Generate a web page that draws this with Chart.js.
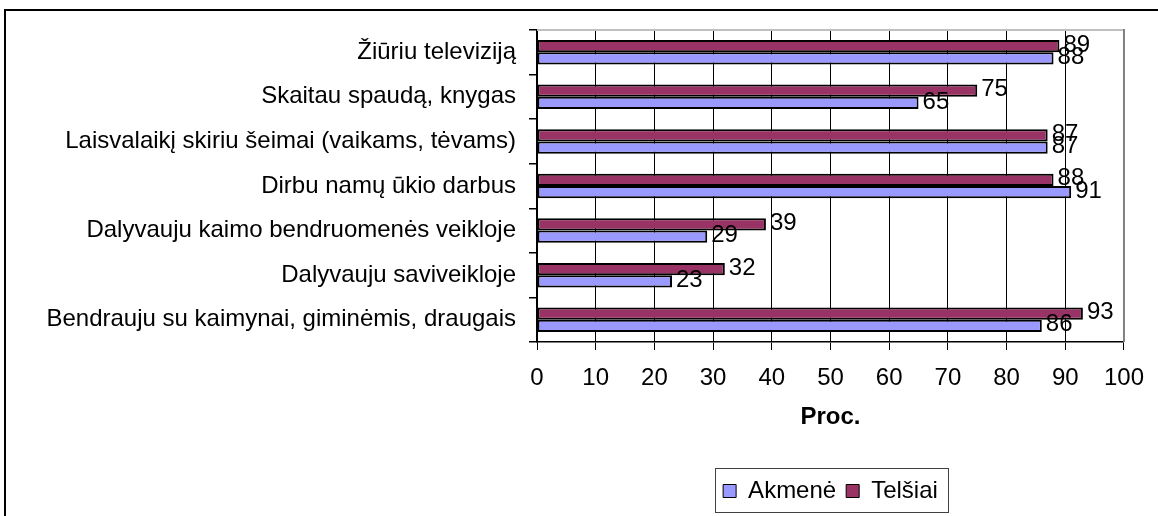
<!DOCTYPE html>
<html>
<head>
<meta charset="utf-8">
<script src="https://cdn.jsdelivr.net/npm/chart.js@4.4.1/dist/chart.umd.min.js"></script>
<style>
  html, body { margin:0; padding:0; width:1158px; height:516px; overflow:hidden; background:#fff; }
  #frame { position:absolute; left:4px; top:9px; width:1400px; height:800px; border:2px solid #000; }
  #wrap { position:absolute; left:0; top:0; width:1158px; height:516px; }
</style>
</head>
<body>
<div id="frame"></div>
<div id="wrap"><canvas id="c" width="1158" height="516"></canvas></div>
<script>
const categories = [
  'Žiūriu televiziją',
  'Skaitau spaudą, knygas',
  'Laisvalaikį skiriu šeimai (vaikams, tėvams)',
  'Dirbu namų ūkio darbus',
  'Dalyvauju kaimo bendruomenės veikloje',
  'Dalyvauju saviveikloje',
  'Bendrauju su kaimynai, giminėmis, draugais'
];
const akmene  = [88, 65, 87, 91, 29, 23, 86];
const telsiai = [89, 75, 87, 88, 39, 32, 93];
const xMin = 0, xMax = 100, xStep = 10;
const xTitle = 'Proc.';

const FONT = "'Liberation Sans', Arial, sans-serif";

const dataLabels = {
  id: 'dataLabels',
  afterDatasetsDraw(chart) {
    const ctx = chart.ctx;
    ctx.save();
    ctx.font = '24px ' + FONT;
    ctx.fillStyle = '#000';
    ctx.textAlign = 'left';
    ctx.textBaseline = 'middle';
    chart.data.datasets.forEach((ds, i) => {
      const meta = chart.getDatasetMeta(i);
      meta.data.forEach((el, j) => {
        ctx.fillText(String(ds.data[j]), el.x + 4, el.y - 1);
      });
    });
    ctx.restore();
  }
};

const plotBorder = {
  id: 'plotBorder',
  beforeDatasetsDraw(chart) {
    const {ctx, chartArea: a} = chart;
    ctx.save();
    ctx.lineWidth = 2;
    ctx.strokeStyle = '#c0c0c0';
    ctx.beginPath(); ctx.moveTo(a.left, a.top); ctx.lineTo(a.right, a.top); ctx.stroke();
    ctx.strokeStyle = '#808080';
    ctx.beginPath(); ctx.moveTo(a.right, a.top - 1); ctx.lineTo(a.right, a.bottom); ctx.stroke();
    ctx.restore();
  }
};

const legendBox = {
  id: 'legendBox',
  afterDraw(chart) {
    const lg = chart.legend;
    if (!lg || !lg.legendHitBoxes || !lg.legendHitBoxes.length) return;
    const hb = lg.legendHitBoxes;
    const l = Math.min(...hb.map(h => h.left)) - 8;
    const r = Math.max(...hb.map(h => h.left + h.width)) + 10;
    const ctx = chart.ctx;
    ctx.save();
    ctx.strokeStyle = '#404040';
    ctx.lineWidth = 1;
    ctx.strokeRect(Math.round(l) + 0.5, Math.round(lg.top - 1) + 0.5, Math.round(r - l), Math.round(lg.bottom - lg.top));
    ctx.restore();
  }
};

new Chart(document.getElementById('c'), {
  type: 'bar',
  data: {
    labels: categories,
    datasets: [
      { label: 'Telšiai', data: telsiai, backgroundColor: '#993366', borderColor: '#000', borderWidth: 2, borderSkipped: false },
      { label: 'Akmenė', data: akmene, backgroundColor: '#9999FF', borderColor: '#000', borderWidth: 2, borderSkipped: false }
    ]
  },
  options: {
    indexAxis: 'y',
    responsive: false,
    animation: false,
    devicePixelRatio: 1,
    categoryPercentage: 0.55,
    barPercentage: 1.0,
    layout: { padding: { top: 30, right: 30, bottom: 3, left: 0 } },
    scales: {
      y: {
        afterFit(s) { s.width = 537; },
        grid: { display: true, drawOnChartArea: false, drawTicks: true, tickLength: 8, color: '#000', lineWidth: 1.5, offset: true },
        border: { display: true, color: '#000', width: 2 },
        ticks: { font: { family: FONT, size: 24 }, color: '#000', padding: 13 }
      },
      x: {
        min: xMin, max: xMax,
        afterFit(s) { s.height = 127; },
        grid: { display: true, drawOnChartArea: true, drawTicks: true, tickLength: 8, color: '#000', lineWidth: 1 },
        border: { display: true, color: '#000', width: 1.5 },
        ticks: { stepSize: xStep, font: { family: FONT, size: 24 }, color: '#000', padding: 14, maxRotation: 0 },
        title: { display: true, text: xTitle, font: { family: FONT, size: 24, weight: 'bold' }, color: '#000', padding: { top: 0, bottom: 37 } }
      }
    },
    plugins: {
      legend: {
        display: true,
        position: 'bottom',
        fullSize: false,
        reverse: true,
        labels: {
          font: { family: FONT, size: 24 },
          color: '#000',
          boxWidth: 13,
          boxHeight: 13,
          padding: 10,
          generateLabels(chart) {
            return Chart.defaults.plugins.legend.labels.generateLabels(chart).map(it => Object.assign(it, { lineWidth: 1 }));
          }
        }
      },
      tooltip: { enabled: false },
      title: { display: false }
    }
  },
  plugins: [plotBorder, dataLabels, legendBox]
});
</script>
</body>
</html>
